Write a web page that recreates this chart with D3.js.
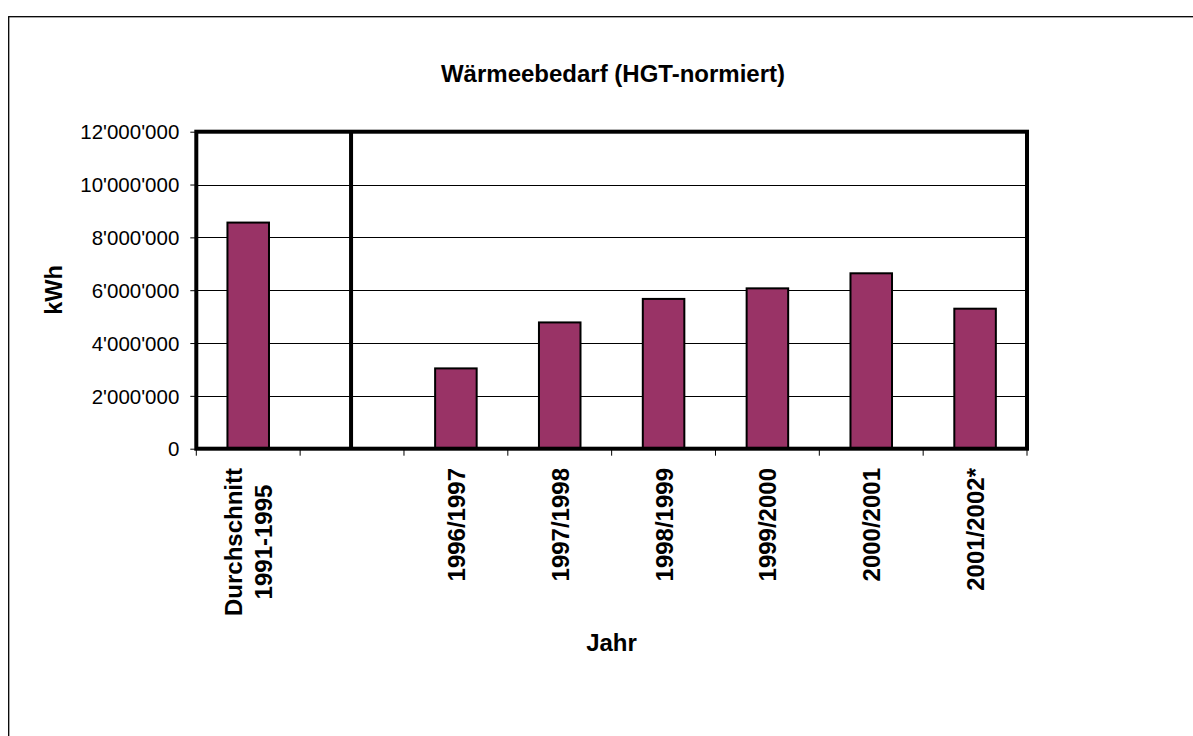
<!DOCTYPE html>
<html>
<head>
<meta charset="utf-8">
<script src="https://cdn.jsdelivr.net/npm/d3@7"></script>
<style>
  html, body { margin: 0; padding: 0; background: #fff; }
  svg { display: block; font-family: "Liberation Sans", Arial, sans-serif; }
</style>
</head>
<body>
<svg id="chart" width="1193" height="736"></svg>
<script>
// ---- data ----
const categories = [["Durchschnitt", "1991-1995"], [], ["1996/1997"], ["1997/1998"], ["1998/1999"], ["1999/2000"], ["2000/2001"], ["2001/2002*"]];
const values = [8560000, null, 3040000, 4780000, 5670000, 6070000, 6640000, 5300000];
const yTicks = [0, 2000000, 4000000, 6000000, 8000000, 10000000, 12000000];
const dividerIndex = 1;
const chartTitle = "Wärmeebedarf (HGT-normiert)";
const yTitle = "kWh";
const xTitle = "Jahr";

// ---- layout ----
const svg = d3.select("#chart");
const pLeft = 196.3, pRight = 1027, pTop = 131.7, pBottom = 448.7;

const locale = d3.formatLocale({decimal: ".", thousands: "'", grouping: [3], currency: ["", ""]});
const fmt = locale.format(",d");

const x = d3.scaleBand().domain(d3.range(categories.length)).range([pLeft, pRight]).paddingInner(0).paddingOuter(0);
const y = d3.scaleLinear().domain([0, 12000000]).range([pBottom, pTop]);

// outer chart border
svg.append("rect").attr("x", 8.7).attr("y", 16.7).attr("width", 1300).attr("height", 900)
  .attr("fill", "none").attr("stroke", "#000").attr("stroke-width", 1.3);

// gridlines
svg.append("g").selectAll("line").data(yTicks.slice(1, -1)).join("line")
  .attr("x1", pLeft).attr("x2", pRight)
  .attr("y1", d => Math.round(y(d)) + 0.5).attr("y2", d => Math.round(y(d)) + 0.5)
  .attr("stroke", "#000").attr("stroke-width", 1);

// y axis ticks and labels
const yAxis = d3.axisLeft(y).tickValues(yTicks).tickFormat(fmt).tickSize(6).tickPadding(11);
const gy = svg.append("g").attr("transform", `translate(${pLeft},0)`).call(yAxis);
gy.select(".domain").remove();
gy.selectAll(".tick line").attr("stroke", "#000").attr("stroke-width", 1);
gy.selectAll(".tick text").attr("font-size", "20.5px").attr("fill", "#000")
  .attr("font-family", "'Liberation Sans', Arial, sans-serif").attr("dy", "0.35em");

// x axis ticks (at category boundaries)
const boundaries = d3.range(categories.length + 1).map(i => i < categories.length ? x(i) : x(categories.length - 1) + x.bandwidth());
svg.append("g").selectAll("line").data(boundaries).join("line")
  .attr("x1", d => d).attr("x2", d => d).attr("y1", pBottom).attr("y2", pBottom + 7)
  .attr("stroke", "#000").attr("stroke-width", 1);

// bars
const barW = x.bandwidth() * 0.40;
svg.append("g").selectAll("rect").data(values.map((v, i) => ({v, i})).filter(d => d.v != null)).join("rect")
  .attr("x", d => x(d.i) + x.bandwidth() / 2 - barW / 2)
  .attr("y", d => y(d.v))
  .attr("width", barW)
  .attr("height", d => y(0) - y(d.v))
  .attr("fill", "#993366").attr("stroke", "#000").attr("stroke-width", 2);

// plot frame
svg.append("rect").attr("x", pLeft).attr("y", pTop).attr("width", pRight - pLeft).attr("height", pBottom - pTop)
  .attr("fill", "none").attr("stroke", "#000").attr("stroke-width", 4);
// divider
const dx = x(dividerIndex) + x.bandwidth() / 2 - 1;
svg.append("line").attr("x1", dx).attr("x2", dx).attr("y1", pTop).attr("y2", pBottom + 1)
  .attr("stroke", "#000").attr("stroke-width", 4);

// x category labels (rotated)
const labelTop = 468;
const lineGap = 30;
categories.forEach((lines, i) => {
  if (!lines.length) return;
  const cx = x(i) + x.bandwidth() / 2;
  const n = lines.length;
  const g = svg.append("g");
  const texts = lines.map((t, k) => {
    const base = cx + 9 + (k - (n - 1) / 2) * lineGap;
    return g.append("text").attr("font-size", "24px").attr("font-weight", "bold").attr("fill", "#000")
      .attr("text-anchor", "middle")
      .attr("data-base", base)
      .text(t);
  });
  const maxLen = d3.max(texts, t => t.node().getComputedTextLength());
  texts.forEach(t => {
    const base = +t.attr("data-base");
    const cy = labelTop + maxLen / 2;
    t.attr("transform", `translate(${base},${cy}) rotate(-90)`);
  });
});

// titles
svg.append("text").attr("x", 613).attr("y", 82).attr("text-anchor", "middle")
  .attr("font-size", "24px").attr("font-weight", "bold").text(chartTitle);
svg.append("text").attr("transform", "translate(62,290) rotate(-90)").attr("text-anchor", "middle")
  .attr("font-size", "23.5px").attr("font-weight", "bold").text(yTitle);
svg.append("text").attr("x", 611.5).attr("y", 651).attr("text-anchor", "middle")
  .attr("font-size", "24px").attr("font-weight", "bold").text(xTitle);
</script>
</body>
</html>
